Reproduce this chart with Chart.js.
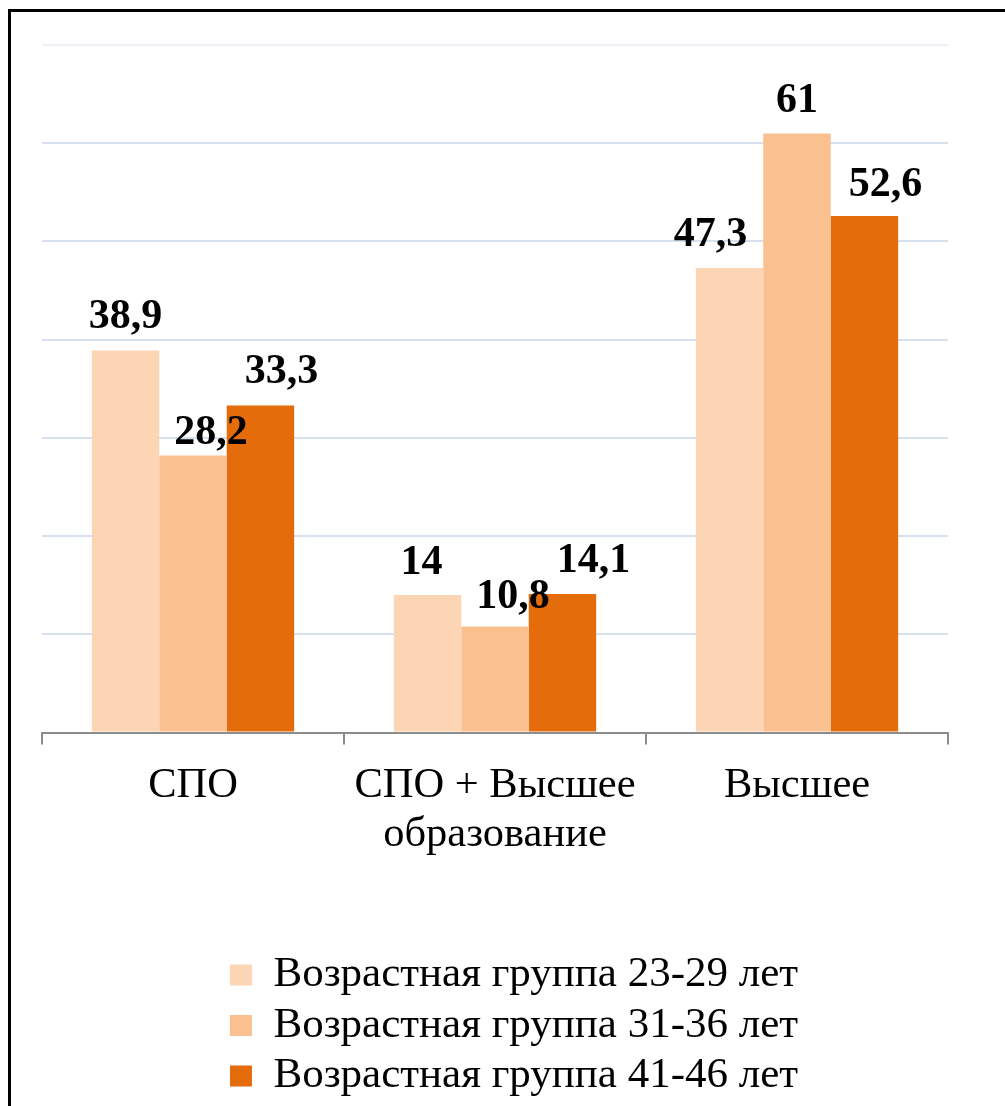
<!DOCTYPE html>
<html lang="ru">
<head>
  <meta charset="UTF-8">
  <title>Образование по возрастным группам</title>
  <script src="https://cdn.jsdelivr.net/npm/chart.js"></script>
  <style>
    html, body {
      margin: 0;
      padding: 0;
      background: #fff;
      overflow: hidden;
    }

    .wrap {
      position: relative;
      width: 1005px;
      height: 1106px;
    }

    .frame {
      position: absolute;
      left: 8px;
      top: 9px;
      right: -20px;
      bottom: -20px;
      border: 3px solid #000;
      pointer-events: none;
    }

    canvas {
      position: absolute;
      left: 0;
      top: 0;
    }
  </style>
</head>
<body>
  <div class="wrap">
    <canvas id="eduChart" width="1005" height="1106"></canvas>
    <div class="frame"></div>
  </div>

<script>
  const categories = ['СПО', ['СПО + Высшее', 'образование'], 'Высшее'];
  const seriesNames = [
    'Возрастная группа 23-29 лет',
    'Возрастная группа 31-36 лет',
    'Возрастная группа 41-46 лет'
  ];
  const group23_29 = [38.9, 14, 47.3];
  const group31_36 = [28.2, 10.8, 61];
  const group41_46 = [33.3, 14.1, 52.6];
  const colors = ['#FCD5B5', '#FAC090', '#E46C0A'];

  // hand-placed label nudges (dx, dy) like in the original
  const labelNudge = [
    [[0, 0], [-6, 1], [-19, 0]],
    [[18, 10], [18, 4], [0, 1]],
    [[21, 0], [31, 0], [21, 2]]
  ];

  const serif = '"Liberation Serif", "Times New Roman", serif';
  const fmt = v => String(v).replace('.', ',');

  const valueLabels = {
    id: 'valueLabels',
    afterDatasetsDraw(chart) {
      const { ctx } = chart;
      ctx.save();
      ctx.font = 'bold 42px ' + serif;
      ctx.fillStyle = '#000';
      ctx.textAlign = 'center';
      ctx.textBaseline = 'alphabetic';
      chart.data.datasets.forEach((ds, di) => {
        chart.getDatasetMeta(di).data.forEach((bar, i) => {
          const [dx, dy] = labelNudge[di][i];
          ctx.fillText(fmt(ds.data[i]), bar.x + dx, bar.y - 22 + dy);
        });
      });
      ctx.restore();
    }
  };

  // legend sits a little right of the plot centre in the original
  const legendShift = {
    id: 'legendShift',
    afterLayout(chart) {
      chart.legend.left += 19;
      chart.legend.right += 19;
    }
  };

  const ctx = document.getElementById('eduChart').getContext('2d');

  new Chart(ctx, {
    type: 'bar',
    data: {
      labels: categories,
      datasets: [group23_29, group31_36, group41_46].map((d, i) => ({
        label: seriesNames[i],
        data: d,
        backgroundColor: colors[i],
        borderWidth: 0,
        categoryPercentage: 0.67,
        barPercentage: 1
      }))
    },
    options: {
      responsive: false,
      animation: false,
      layout: {
        padding: { left: 42, right: 57, top: 45, bottom: -1.5 }
      },
      plugins: {
        tooltip: { enabled: false },
        legend: {
          position: 'bottom',
          labels: {
            boxWidth: 22,
            boxHeight: 21,
            padding: 7.5,
            color: '#000',
            font: { family: serif, size: 43 }
          }
        }
      },
      scales: {
        x: {
          grid: {
            offset: true,
            drawOnChartArea: false,
            drawTicks: true,
            tickLength: 12,
            color: '#8c8c8c',
            lineWidth: 2
          },
          border: { display: true, color: '#8c8c8c', width: 2 },
          ticks: {
            color: '#000',
            padding: 17,
            font: { family: serif, size: 42.5, lineHeight: 1.15 }
          },
          afterFit: s => { s.height = 213.5; }
        },
        y: {
          min: 0,
          max: 70,
          ticks: { stepSize: 10, display: false },
          border: { display: false },
          grid: {
            drawTicks: false,
            lineWidth: 2,
            color: c => c.tick && c.tick.value === 70 ? '#eef2f8' : '#d6e0ef'
          },
          afterFit: s => { s.width = 0; }
        }
      }
    },
    plugins: [valueLabels, legendShift]
  });
</script>

</body>
</html>
